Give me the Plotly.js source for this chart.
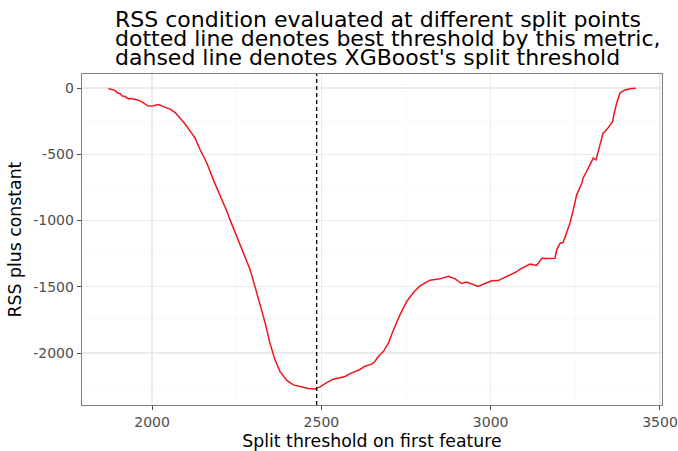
<!DOCTYPE html>
<html>
<head>
<meta charset="utf-8">
<script src="https://cdn.plot.ly/plotly-3.0.1.min.js"></script>
<style>html,body{margin:0;padding:0;background:#fff;}#chart{width:678px;height:451px;}</style>
</head>
<body>
<div id="chart"></div>
<script>
// Split thresholds (x) and RSS plus constant (y)
var splitThreshold = [1871,1882,1891,1896,1906,1911,1920,1930,1935,1945,1950,1965,1979,1989,2004,2019,2033,2043,2053,2068,2083,2097,2112,2127,2142,2162,2181,2201,2221,2235,2260,2275,2289,2304,2319,2334,2348,2363,2378,2398,2417,2442,2461,2481,2496,2516,2535,2555,2570,2585,2599,2614,2629,2649,2658,2668,2683,2698,2712,2732,2752,2772,2791,2821,2850,2875,2895,2914,2929,2944,2963,2983,3003,3022,3047,3077,3087,3106,3116,3126,3136,3146,3151,3170,3190,3195,3205,3214,3224,3234,3244,3254,3269,3273,3283,3293,3303,3311,3318,3328,3332,3344,3352,3360,3365,3372,3382,3396,3416,3429];
var rssValue = [-4,-10,-19,-34,-44,-59,-64,-82,-79,-82,-84,-97,-119,-136,-134,-125,-140,-152,-159,-185,-225,-270,-323,-378,-466,-567,-693,-806,-932,-1025,-1180,-1272,-1367,-1500,-1636,-1774,-1925,-2051,-2140,-2207,-2240,-2257,-2268,-2272,-2255,-2223,-2197,-2186,-2177,-2155,-2142,-2124,-2099,-2084,-2064,-2026,-1989,-1925,-1832,-1712,-1611,-1543,-1493,-1450,-1440,-1420,-1440,-1475,-1464,-1478,-1498,-1475,-1455,-1453,-1423,-1385,-1367,-1340,-1329,-1334,-1338,-1302,-1284,-1287,-1284,-1221,-1171,-1166,-1095,-1020,-919,-806,-718,-680,-630,-580,-529,-542,-479,-391,-340,-310,-285,-253,-189,-114,-38,-14,-4,-1];
var xgbThreshold = 2486;
var xTickVals = [2000,2500,3000,3500];
var xTickText = ["2000","2500","3000","3500"];
var yTickVals = [0,-500,-1000,-1500,-2000];
var yTickText = ["0","-500","-1000","-1500","-2000"];
var titleLines = ["RSS condition evaluated at different split points",
                  "dotted line denotes best threshold by this metric,",
                  "dahsed line denotes XGBoost's split threshold"];

var FONT = "DejaVu Sans, sans-serif";
var trace = {
  x: splitThreshold, y: rssValue, type: "scatter", mode: "lines",
  line: {color: "#f0141e", width: 1.5}, hoverinfo: "skip"
};
var shifts = [54.5, 35.5, 17];
var annotations = titleLines.map(function(t, i){
  return {text: t, xref: "paper", yref: "paper", x: 0, y: 1, xanchor: "left", yanchor: "middle",
          xshift: 31, yshift: shifts[i], showarrow: false, font: {family: FONT, size: 22, color: "#000"}};
});
var axisCommon = {
  showline: true, mirror: true, linecolor: "#7f7f7f", linewidth: 1.3,
  ticks: "outside", ticklen: 4, tickcolor: "#4d4d4d", tickwidth: 1,
  tickfont: {family: FONT, size: 14, color: "#4d4d4d"},
  showgrid: true, gridcolor: "#ebebeb", gridwidth: 1.2, zeroline: false,
  tickmode: "array"
};
var layout = {
  width: 678, height: 451,
  margin: {l: 82, r: 16, t: 74, b: 46},
  paper_bgcolor: "#fff", plot_bgcolor: "#fff",
  showlegend: false,
  xaxis: Object.assign({}, axisCommon, {
    range: [1793, 3506], tickvals: xTickVals, ticktext: xTickText,
    minor: {tickmode: "array", tickvals: [1750,2250,2750,3250], showgrid: true, gridcolor: "#f5f5f5", gridwidth: 0.6, ticks: ""},
    title: {text: "Split threshold on first feature", font: {family: FONT, size: 17.3, color: "#000"}, standoff: 5}
  }),
  yaxis: Object.assign({}, axisCommon, {
    range: [-2392, 106], tickvals: yTickVals, ticktext: yTickText,
    minor: {tickmode: "array", tickvals: [-250,-750,-1250,-1750,-2250], showgrid: true, gridcolor: "#f5f5f5", gridwidth: 0.6, ticks: ""},
    title: {text: "RSS plus constant", font: {family: FONT, size: 17.3, color: "#000"}, standoff: 7}
  }),
  shapes: [{type: "line", xref: "x", yref: "paper", x0: xgbThreshold, x1: xgbThreshold, y0: 0, y1: 1,
            line: {color: "#000", width: 1.3, dash: "4px,3px"}}],
  annotations: annotations
};
Plotly.newPlot("chart", [trace], layout, {staticPlot: true, displayModeBar: false});
</script>
</body>
</html>
